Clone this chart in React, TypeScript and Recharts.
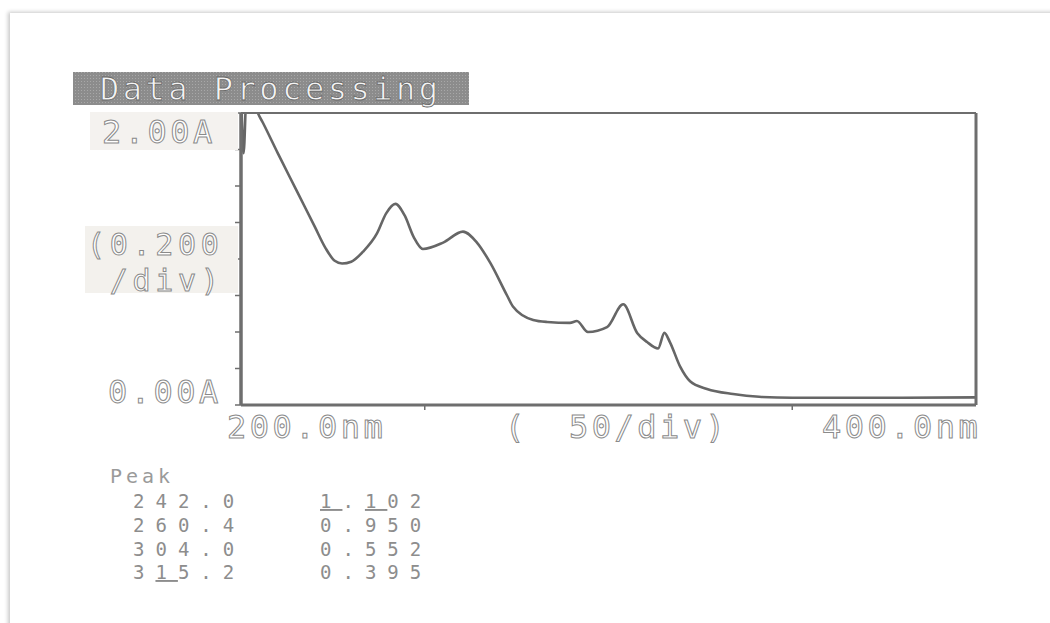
import React from "react";
import { LineChart, Line, XAxis, YAxis } from "recharts";

// spectrum trace, nm vs absorbance
const wavelength = [
  200, 200.7, 201.6, 203, 204.6, 206, 210, 215, 220, 223, 225.5, 227.5, 230, 233.2, 237, 239.5,
  242, 244.5, 247, 249.5, 255, 260.4, 264.2, 267.8, 272.4, 274, 279.5, 283.3, 289.5, 291.4,
  294.4, 299.6, 304, 307.8, 310.5, 313.5, 315.2, 316.7, 319.5, 322.2, 326.8, 333.9, 341, 350,
  365, 380, 400,
];
const absorbance = [
  1.75, 1.38, 1.75, 1.7, 1.6, 1.545, 1.38, 1.18, 0.98, 0.86, 0.79, 0.775, 0.785, 0.84, 0.94, 1.05,
  1.102, 1.04, 0.92, 0.855, 0.89, 0.95, 0.89, 0.78, 0.6, 0.54, 0.466, 0.455, 0.45, 0.46,
  0.4, 0.427, 0.552, 0.395, 0.345, 0.31, 0.395, 0.345, 0.21, 0.13, 0.088, 0.06, 0.045, 0.04,
  0.04, 0.04, 0.042,
];

// peak table
const peakNm = ["242.0", "260.4", "304.0", "315.2"];
const peakAbs = ["1.102", "0.950", "0.552", "0.395"];

const yTicks = [0, 0.2, 0.4, 0.6, 0.8, 1.0, 1.2, 1.4, 1.6];
const xTicks = [250, 350];

const data = wavelength.map((nm, i) => ({ nm, abs: absorbance[i] }));

const INK = "#6e6e6e";
const MONO = "'DejaVu Sans Mono', monospace";

const noLabel = () => <g />;

function Labels() {
  const big = {
    fontFamily: MONO,
    fontSize: 32,
    letterSpacing: 3.5,
    fill: "#ffffff",
    stroke: "#8a8a8a",
    strokeWidth: 1,
  } as const;
  // the two-line scale note is set a touch smaller so the lines clear each other
  const note = { ...big, fontSize: 30, letterSpacing: 4.7 } as const;
  const small = { fontFamily: MONO, fontSize: 19, letterSpacing: 11, fill: "#8d8d8d" } as const;
  const rowY = [508, 532, 556, 579];
  const underline = (s: string, idx: number[]) =>
    s.split("").map((c, i) => (
      <tspan key={i} textDecoration={idx.includes(i) ? "underline" : undefined}>
        {c}
      </tspan>
    ));
  return (
    <svg
      width={1050}
      height={623}
      style={{ position: "absolute", left: 0, top: 0, pointerEvents: "none" }}
    >
      <defs>
        <pattern id="dots" width={3} height={3} patternUnits="userSpaceOnUse">
          <rect width={3} height={3} fill="#8c8c8c" />
          <rect width={1} height={1} fill="#a8a8a8" />
        </pattern>
      </defs>
      <rect x={73} y={72} width={396} height={33} fill="url(#dots)" />
      <text x={100} y={100} {...big} fill="#f4f4f4" stroke="#6a6a6a" strokeWidth={0.8}>
        Data Processing
      </text>

      <rect x={90} y={112} width={148} height={38} fill="#f4f2ef" />
      <rect x={85} y={226} width={153} height={67} fill="#f3f1ed" />
      <text x={102} y={143} {...big}>2.00A</text>
      <text x={87} y={255} {...note}>(0.200</text>
      <text x={87} y={291} {...note} xmlSpace="preserve">{" /div)"}</text>
      <text x={108} y={403} {...big}>0.00A</text>

      <text x={227} y={438} {...big}>200.0nm</text>
      <text x={505} y={438} {...big}>(</text>
      <text x={569} y={438} {...big}>50/div)</text>
      <text x={822} y={438} {...big}>400.0nm</text>

      <text x={110} y={483} fontFamily={MONO} fontSize={20} letterSpacing={4} fill="#9a9a9a">
        Peak
      </text>
      {peakNm.map((s, i) => (
        <text key={"n" + i} x={133} y={rowY[i]} {...small}>
          {i === 3 ? underline(s, [1]) : s}
        </text>
      ))}
      {peakAbs.map((s, i) => (
        <text key={"a" + i} x={320} y={rowY[i]} {...small}>
          {i === 0 ? underline(s, [0, 2]) : s}
        </text>
      ))}
    </svg>
  );
}

export default function App() {
  return (
    <div
      style={{
        position: "fixed",
        left: 0,
        top: 0,
        width: 1050,
        height: 623,
        overflow: "hidden",
        background: "#ffffff",
      }}
    >
      <div
        style={{
          position: "absolute",
          left: 10,
          top: 13,
          width: 1100,
          height: 700,
          background: "#ffffff",
          boxShadow: "-2px -1px 4px rgba(0,0,0,0.22)",
        }}
      />
      <div style={{ position: "absolute", left: 0, top: 0 }}>
        <LineChart
          width={1050}
          height={623}
          data={data}
          margin={{ top: 107, left: 233, right: 66, bottom: 212 }}
        >
          <XAxis
            dataKey="nm"
            type="number"
            domain={[200, 400]}
            ticks={xTicks}
            allowDataOverflow
            height={6}
            tickSize={5}
            tick={noLabel}
            stroke={INK}
            axisLine={{ stroke: INK, strokeWidth: 3 }}
            tickLine={{ stroke: INK, strokeWidth: 1.5 }}
          />
          <XAxis
            xAxisId="top"
            orientation="top"
            type="number"
            domain={[200, 400]}
            ticks={xTicks}
            height={6}
            tickSize={5}
            tick={noLabel}
            axisLine={{ stroke: INK, strokeWidth: 2 }}
            tickLine={{ stroke: INK, strokeWidth: 1.5 }}
          />
          <YAxis
            type="number"
            domain={[0, 1.6]}
            ticks={yTicks}
            allowDataOverflow
            width={8}
            tickSize={6}
            tick={noLabel}
            axisLine={{ stroke: INK, strokeWidth: 3.5 }}
            tickLine={{ stroke: INK, strokeWidth: 1.5 }}
          />
          <YAxis
            yAxisId="right"
            orientation="right"
            type="number"
            domain={[0, 1.6]}
            ticks={yTicks}
            width={8}
            tickSize={5}
            tick={noLabel}
            axisLine={{ stroke: INK, strokeWidth: 3 }}
            tickLine={{ stroke: INK, strokeWidth: 1.5 }}
          />
          <Line
            dataKey="abs"
            type="monotone"
            stroke="#666666"
            strokeWidth={2.6}
            dot={false}
            isAnimationActive={false}
          />
        </LineChart>
      </div>
      <Labels />
    </div>
  );
}
